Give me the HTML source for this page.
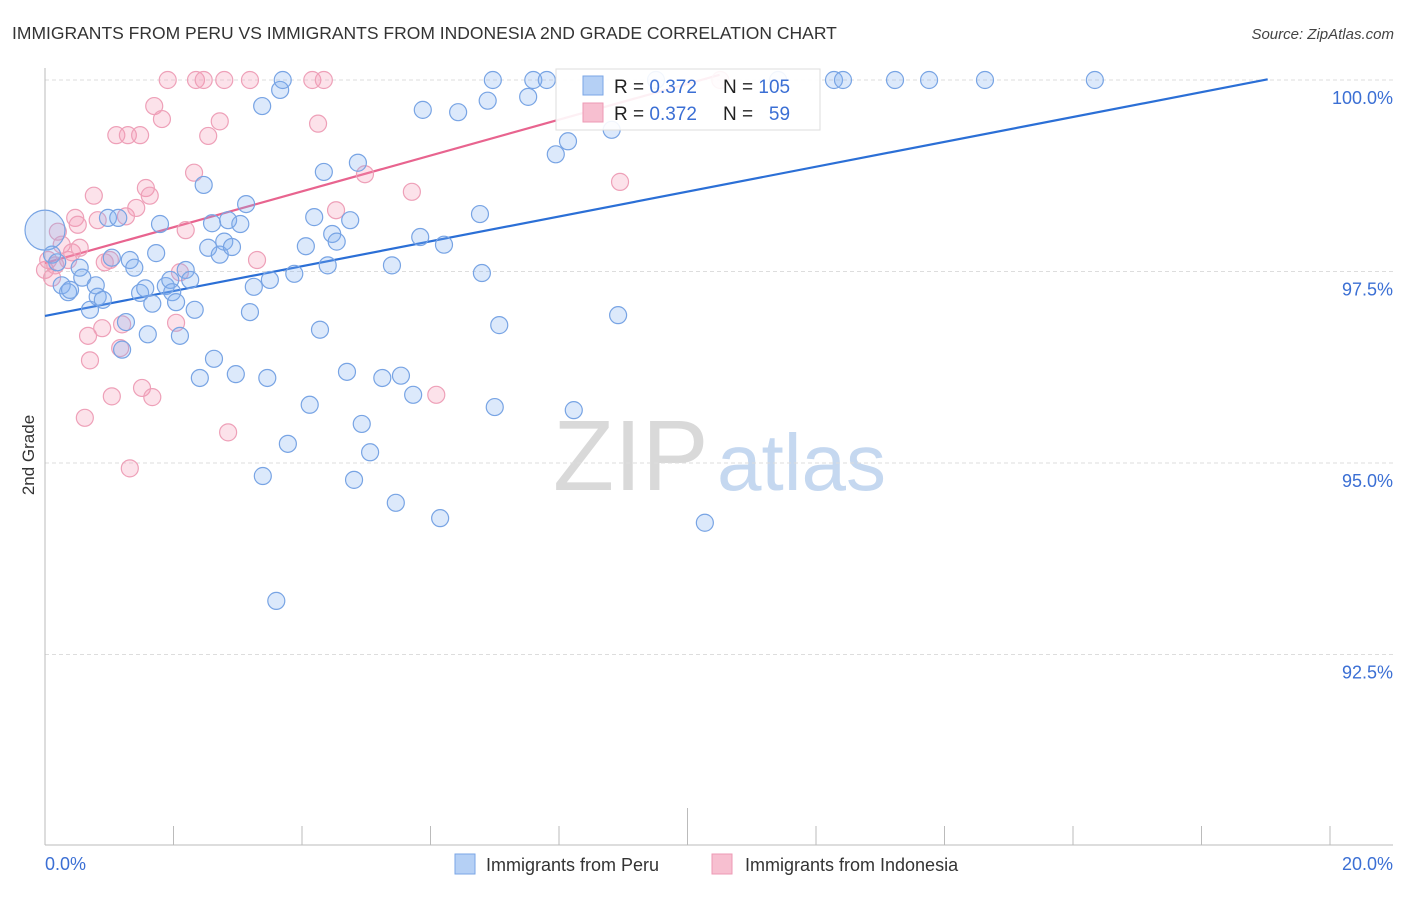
<!DOCTYPE html>
<html><head><meta charset="utf-8"><style>
body{margin:0;background:#fff;font-family:"Liberation Sans",sans-serif}
svg text{font-family:"Liberation Sans",sans-serif}
</style></head><body>
<svg id="chart" width="1406" height="892" viewBox="0 0 1406 892" xmlns="http://www.w3.org/2000/svg">
<text x="12" y="39" font-size="17.5" fill="#333">IMMIGRANTS FROM PERU VS IMMIGRANTS FROM INDONESIA 2ND GRADE CORRELATION CHART</text>
<text x="1394" y="39" font-size="15" fill="#444" text-anchor="end" font-style="italic">Source: ZipAtlas.com</text>
<g>
<text x="553" y="490" font-size="100" fill="#d9d9d9" font-family="Liberation Serif, serif">ZIP</text>
<text x="717" y="490" font-size="80" fill="#c5d8f0">atlas</text>
</g>
<g id="grid"></g>
<g id="axes"></g>
<g id="trend"></g>
<g id="pts"></g>
<text transform="translate(34,455) rotate(-90)" font-size="17" fill="#333" text-anchor="middle">2nd Grade</text>
<g>
<rect x="556" y="69" width="264" height="61" fill="#fff" fill-opacity="0.9" stroke="#ddd"/>
<rect x="583" y="76" width="20" height="19" fill="#b5d0f5" stroke="#7aa6e6"/>
<rect x="583" y="103" width="20" height="19" fill="#f7bfd0" stroke="#ee9ab4"/>
<text x="614" y="93" font-size="19" fill="#222">R = <tspan fill="#3b6fd4">0.372</tspan></text>
<text x="723" y="93" font-size="19" fill="#222">N = <tspan fill="#3b6fd4">105</tspan></text>
<text x="614" y="120" font-size="19" fill="#222">R = <tspan fill="#3b6fd4">0.372</tspan></text>
<text x="723" y="120" font-size="19" fill="#222">N = <tspan fill="#3b6fd4">&#160;&#160;59</tspan></text>
</g>
<g>
<rect x="455" y="854" width="20" height="20" fill="#b5d0f5" stroke="#7aa6e6"/>
<text x="486" y="871" font-size="18" fill="#333">Immigrants from Peru</text>
<rect x="712" y="854" width="20" height="20" fill="#f7bfd0" stroke="#ee9ab4"/>
<text x="745" y="871" font-size="18" fill="#333">Immigrants from Indonesia</text>
</g>
</svg>
<script>
const yTicks=[100,97.5,95,92.5];
const yTickLabels=["100.0%","97.5%","95.0%","92.5%"];
const xTicks=[0,2,4,6,8,10,12,14,16,18,20];
const xTickLabels=["0.0%","20.0%"];
const peruX=[0,0.11,0.19,0.26,0.36,0.39,0.54,0.58,0.70,0.79,0.82,0.90,0.98,1.04,1.14,1.20,1.26,1.32,1.39,1.48,1.56,1.60,1.67,1.73,1.79,1.88,1.95,1.98,2.04,2.10,2.19,2.26,2.33,2.41,2.47,2.54,2.60,2.63,2.72,2.79,2.85,2.91,2.97,3.04,3.13,3.19,3.25,3.38,3.39,3.46,3.50,3.60,3.66,3.70,3.78,3.88,4.06,4.12,4.19,4.28,4.34,4.40,4.47,4.54,4.70,4.75,4.81,4.87,4.93,5.06,5.25,5.40,5.46,5.54,5.73,5.84,5.88,6.15,6.21,6.43,6.77,6.80,6.89,6.97,7.00,7.07,7.52,7.60,7.81,7.95,8.14,8.23,8.82,8.92,9.51,10.27,11.41,12.28,12.42,13.23,13.76,14.63,16.34];
const peruY=[98.04,97.72,97.62,97.32,97.23,97.26,97.55,97.42,97.00,97.32,97.17,97.13,98.20,97.68,98.20,96.48,96.84,97.65,97.55,97.22,97.28,96.68,97.08,97.74,98.12,97.31,97.39,97.23,97.10,96.66,97.52,97.39,97.00,96.11,98.63,97.81,98.13,96.36,97.72,97.89,98.17,97.82,96.16,98.12,98.38,96.97,97.30,99.66,94.83,96.11,97.39,93.20,99.87,100,95.25,97.47,97.83,95.76,98.21,96.74,98.80,97.58,97.99,97.89,96.19,98.17,94.78,98.92,95.51,95.14,96.11,97.58,94.48,96.14,95.89,97.95,99.61,94.28,97.85,99.58,98.25,97.48,99.73,100,95.73,96.80,99.78,100,100,99.03,99.20,95.69,99.35,96.93,100,94.22,100,100,100,100,100,100,100];
const indoX=[0,0.05,0.11,0.16,0.20,0.26,0.36,0.42,0.47,0.51,0.54,0.62,0.67,0.70,0.76,0.82,0.89,0.93,1.01,1.04,1.11,1.17,1.20,1.26,1.29,1.32,1.42,1.48,1.51,1.57,1.63,1.67,1.70,1.82,1.91,2.04,2.10,2.19,2.32,2.35,2.47,2.54,2.72,2.79,2.85,3.19,3.30,4.16,4.25,4.34,4.53,4.98,5.71,6.09,8.95,10.51];
const indoY=[97.52,97.65,97.42,97.58,98.02,97.85,97.65,97.75,98.20,98.11,97.81,95.59,96.66,96.34,98.49,98.17,96.76,97.62,97.65,95.87,99.28,96.50,96.81,98.22,99.28,94.93,98.33,99.28,95.98,98.59,98.49,95.86,99.66,99.49,100,96.83,97.49,98.04,98.79,100,100,99.27,99.46,100,95.40,100,97.65,100,99.43,100,98.30,98.77,98.54,95.89,98.67,100];
const peruTrend=[96.92,0.1623,19.03];
const indoTrend=[97.61,0.234,10.5];
const NS="http://www.w3.org/2000/svg";
const X0=45,XS=64.25,Y0=80,YS=76.6;
const xs=v=>X0+v*XS, ys=v=>Y0+(100-v)*YS;
function mk(tag,attrs,parent){const e=document.createElementNS(NS,tag);for(const k in attrs)e.setAttribute(k,attrs[k]);parent.appendChild(e);return e;}
const grid=document.getElementById('grid'),axes=document.getElementById('axes'),trend=document.getElementById('trend'),pts=document.getElementById('pts');
yTicks.forEach((t,i)=>{
 const l=mk('line',{x1:45,x2:1393,y1:ys(t),y2:ys(t),stroke:'#ddd','stroke-dasharray':'4,3'},grid);
 
 
 const tx=mk('text',{x:1393,y:ys(t)+24,'font-size':'18',fill:'#3b6fd4','text-anchor':'end'},grid);
 tx.textContent=yTickLabels[i];
 
 
});
const ax=mk('line',{x1:45,x2:1393,y1:845,y2:845,stroke:'#bbb'},axes);


const ay=mk('line',{x1:45,x2:45,y1:68,y2:845,stroke:'#bbb'},axes);


xTicks.forEach(t=>{
 const l=mk('line',{x1:xs(t),x2:xs(t),y1:t===0?68:(t===10?808:826),y2:845,stroke:'#bbb'},axes);
 
 
});
const xl0=mk('text',{x:45,y:870,'font-size':'18',fill:'#3b6fd4'},axes);xl0.textContent=xTickLabels[0];


const xl1=mk('text',{x:1393,y:870,'font-size':'18',fill:'#3b6fd4','text-anchor':'end'},axes);xl1.textContent=xTickLabels[1];


function drawPts(X,Y,fill,stroke,name){X.forEach((x,i)=>{
 const c=mk('circle',{cx:xs(x),cy:ys(Y[i]),r:(i===0&&name==='peru-point')?20:8.5,fill:fill,stroke:stroke,'stroke-width':1.2},pts);
 
 
});}
drawPts(indoX,indoY,'rgba(244,150,180,0.28)','#eea0b8','indonesia-point');
drawPts(peruX,peruY,'rgba(130,175,240,0.28)','#78a4e4','peru-point');
const tp=mk('line',{x1:xs(0),y1:ys(peruTrend[0]),x2:xs(peruTrend[2]),y2:ys(peruTrend[0]+peruTrend[1]*peruTrend[2]),stroke:'#2b6fd6','stroke-width':2.2},trend);


const ti=mk('line',{x1:xs(0),y1:ys(indoTrend[0]),x2:xs(indoTrend[2]),y2:ys(indoTrend[0]+indoTrend[1]*indoTrend[2]),stroke:'#e8648f','stroke-width':2.2},trend);


</script>
</body></html>
